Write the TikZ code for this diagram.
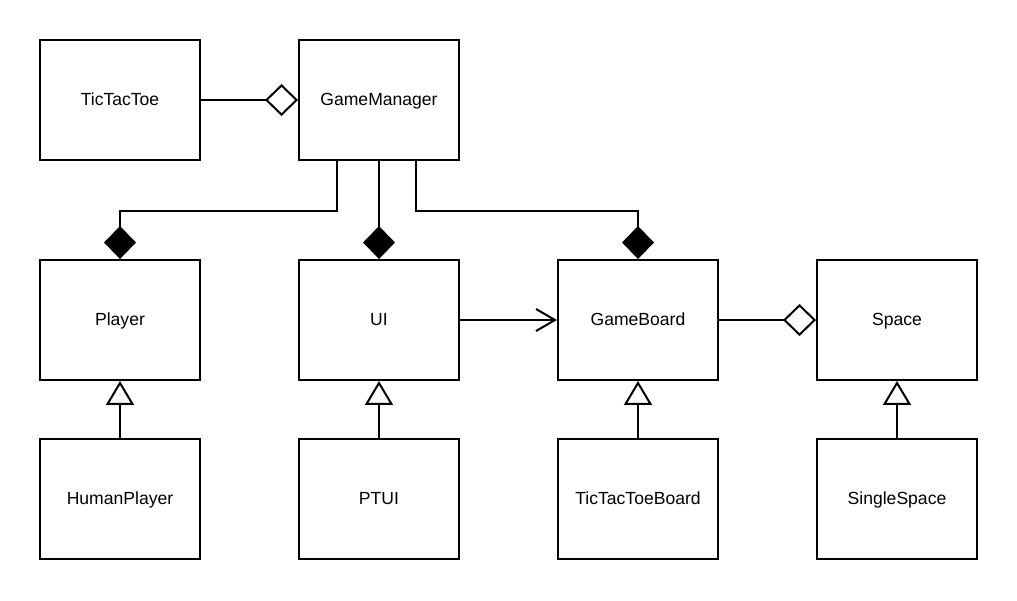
\documentclass[tikz,border=0pt]{standalone}
\usepackage{fontspec}
\setmainfont{Liberation Sans}
\usetikzlibrary{arrows.meta}
\begin{document}
\begin{tikzpicture}[x=0.02cm, y=-0.02cm, line width=0.04cm,
		umlbox/.style={draw, rectangle, minimum width=3.2cm, minimum height=2.4cm, inner sep=0pt, text height=1.6ex, text depth=0.4ex},
		aggregate/.style={-{Diamond[open, length=0.66cm, width=0.64cm]}},
		compose/.style={-{Diamond[length=0.66cm, width=0.64cm]}},
		inherit/.style={-{Triangle[open, length=0.48cm, width=0.56cm]}},
		assoc/.style={-{Straight Barb[length=0.38cm, width=0.44cm]}}]
				\useasboundingbox (0,0) rectangle (1017,600);

				% Top row
				\node[umlbox] (tictactoe) at (120,100) {TicTacToe};
				\node[umlbox] (gamemanager) at (379,100) {GameManager};

				% Middle row
				\node[umlbox] (player) at (120,320) {Player};
				\node[umlbox] (ui) at (379,320) {UI};
				\node[umlbox] (gameboard) at (638,320) {GameBoard};
				\node[umlbox] (space) at (897,320) {Space};

				% Bottom row
				\node[umlbox] (humanplayer) at (120,499) {HumanPlayer};
				\node[umlbox] (ptui) at (379,499) {PTUI};
				\node[umlbox] (tictactoeboard) at (638,499) {TicTacToeBoard};
				\node[umlbox] (singlespace) at (897,499) {SingleSpace};

				% Aggregation
				\draw[aggregate] (tictactoe) -- (gamemanager);
				\draw[aggregate] (gameboard) -- (space);

				% Composition
				\draw[compose] ([xshift=-0.84cm]gamemanager.south) -- ++(0,50) -| (player.north);
				\draw[compose] (gamemanager) -- (ui);
				\draw[compose] ([xshift=0.74cm]gamemanager.south) -- ++(0,50) -| (gameboard.north);

				% Association
				\draw[assoc] (ui) -- (gameboard);

				% Inheritance
				\draw[inherit] (humanplayer) -- (player);
				\draw[inherit] (ptui) -- (ui);
				\draw[inherit] (tictactoeboard) -- (gameboard);
				\draw[inherit] (singlespace) -- (space);
			\end{tikzpicture}
\end{document}
